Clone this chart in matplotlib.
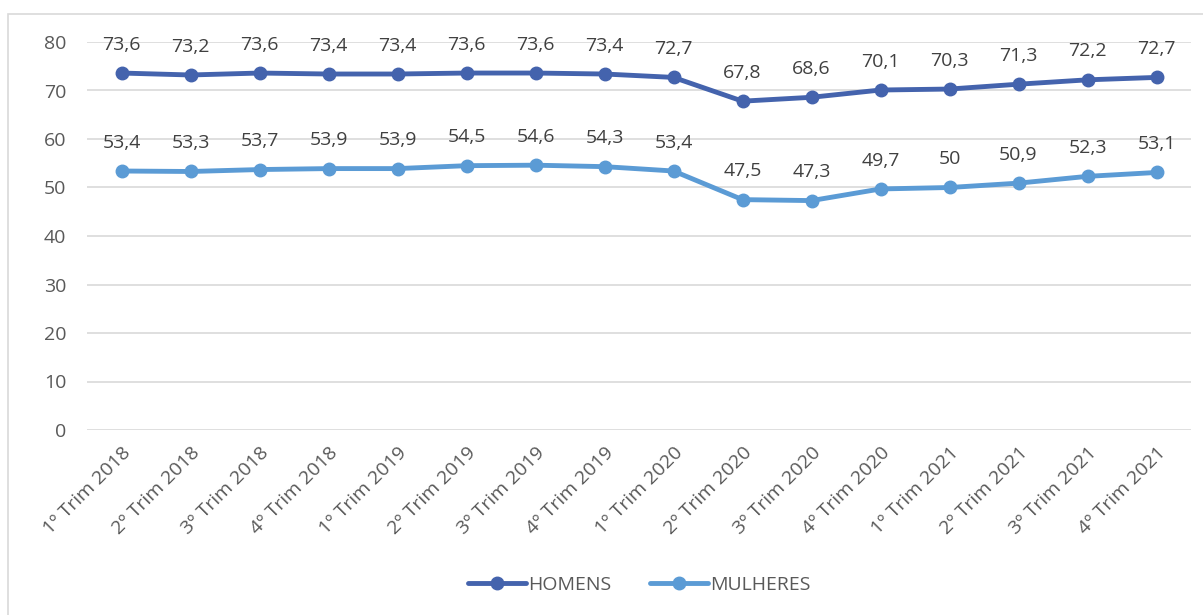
import matplotlib.pyplot as plt
from matplotlib.patches import Rectangle

# Dados do gráfico
trimestres = ['1º Trim 2018', '2º Trim 2018', '3º Trim 2018', '4º Trim 2018',
              '1º Trim 2019', '2º Trim 2019', '3º Trim 2019', '4º Trim 2019',
              '1º Trim 2020', '2º Trim 2020', '3º Trim 2020', '4º Trim 2020',
              '1º Trim 2021', '2º Trim 2021', '3º Trim 2021', '4º Trim 2021']
homens = [73.6, 73.2, 73.6, 73.4, 73.4, 73.6, 73.6, 73.4,
          72.7, 67.8, 68.6, 70.1, 70.3, 71.3, 72.2, 72.7]
mulheres = [53.4, 53.3, 53.7, 53.9, 53.9, 54.5, 54.6, 54.3,
            53.4, 47.5, 47.3, 49.7, 50, 50.9, 52.3, 53.1]
y_ticks = [0, 10, 20, 30, 40, 50, 60, 70, 80]

cor_h = '#4463ad'
cor_m = '#5b9bd5'
cinza = '#595959'

plt.rcParams['font.family'] = ['Open Sans', 'DejaVu Sans']

W, H = 1203, 615
fig = plt.figure(figsize=(W / 100, H / 100), dpi=100)
# moldura cinza clara do gráfico
fig.patches.append(Rectangle((8 / W, -0.05), 1.2, 1 - 14 / H + 0.05,
                             transform=fig.transFigure, fill=False,
                             edgecolor='#d9d9d9', linewidth=1.2))

ax = fig.add_axes([87 / W, 1 - 430 / H, (1191 - 87) / W, (430 - 42) / H])
x = list(range(len(trimestres)))

ax.plot(x, homens, color=cor_h, linewidth=3.5, marker='o', markersize=9,
        label='HOMENS', solid_capstyle='round')
ax.plot(x, mulheres, color=cor_m, linewidth=3.5, marker='o', markersize=9,
        label='MULHERES', solid_capstyle='round')

for serie in (homens, mulheres):
    for xi, v in zip(x, serie):
        txt = f'{v:g}'.replace('.', ',')
        ax.annotate(txt, (xi, v), xytext=(0, 14), textcoords='offset points',
                    ha='center', va='bottom', fontsize=14, color='#404040')

ax.set_xlim(-0.5, len(trimestres) - 0.5)
ax.set_ylim(0, 80)
ax.set_yticks(y_ticks)
ax.set_xticks(x)
ax.set_xticklabels(trimestres, rotation=45, ha='right', rotation_mode='anchor')
ax.tick_params(axis='both', length=0, labelsize=14, colors=cinza)
ax.tick_params(axis='y', pad=15)
ax.tick_params(axis='x', pad=10)
ax.grid(axis='y', color='#d9d9d9', linewidth=1.2)
ax.set_axisbelow(True)
for s in ax.spines.values():
    s.set_visible(False)

leg = ax.legend(loc='center', bbox_to_anchor=(0.5, (430 - 585) / (430 - 42)),
                ncol=2, frameon=False, fontsize=14, handlelength=3,
                columnspacing=2.0, handletextpad=0.1)
for t in leg.get_texts():
    t.set_color(cinza)

fig.savefig('out.png', dpi=100)
